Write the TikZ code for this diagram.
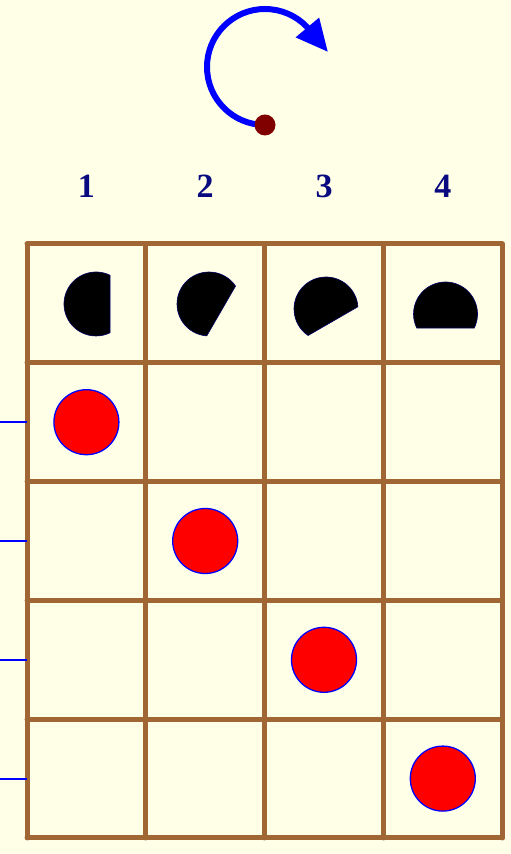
\documentclass[tikz,border=0pt]{standalone}
\usepackage{fontspec}
\setmainfont{Liberation Serif}
\definecolor{bgcream}{RGB}{255,255,232}
\definecolor{gridbrown}{RGB}{160,102,51}
\definecolor{numnavy}{RGB}{10,10,128}
\definecolor{pivotred}{RGB}{128,0,0}
\usetikzlibrary{arrows.meta}

\tikzset{
  gridline/.style={draw=gridbrown, line width=5pt, line cap=round, line join=round},
  token/.style={circle, draw=blue, fill=red, line width=1.3pt, minimum size=65pt, inner sep=0pt},
  colnum/.style={font=\fontsize{34}{40}\selectfont\bfseries, text=numnavy},
  feed/.style={draw=blue, line width=2pt},
  phase/.style={fill=black, draw=blue!40!black, line width=0.6pt},
}

\begin{document}
\begin{tikzpicture}[x=1pt, y=1pt]
  %% Page
  \useasboundingbox (0,0) rectangle (511,854);
  \fill[bgcream] (0,0) rectangle (511,854);

  %% Rotation arrow
  \coordinate (pivot) at (265,729);
  \draw[line width=6pt, blue, -{Triangle[length=32pt, width=29pt]}]
    (pivot) arc[start angle=-90, end angle=-316, radius=58] -- ++(-50:33);
  \node[circle, fill=pivotred, minimum size=21pt, inner sep=0pt] (pivotdot) at (pivot) {};

  %% Column numbers
  \foreach \c in {1,...,4}
    \node[colnum] (col\c) at ({27+118.8*(\c-0.5)},668) {\c};

  %% Grid
  \foreach \i in {0,...,4}
    \draw[gridline] ({27+118.8*\i},16) -- ({27+118.8*\i},610);
  \foreach \j in {0,...,5}
    \draw[gridline] (27,{16+118.8*\j}) -- (502.2,{16+118.8*\j});

  %% Phases in the top row
  \foreach \cx/\cy/\ang in {96/550/0, 209/550/-30, 326/545/-60, 445.5/540/-90}
    \path[phase, shift={(\cx,\cy)}, rotate=\ang]
      (64:32) arc[start angle=64, end angle=296, radius=32] -- cycle;

  %% Tokens and feed lines
  \foreach \k in {1,...,4} {
    \node[token] (tok\k) at ({27+118.8*(\k-0.5)},{610-118.8*(\k+0.5)}) {};
    \coordinate (in\k) at (0,{610-118.8*(\k+0.5)});
    \coordinate (edge\k) at (27,{610-118.8*(\k+0.5)});
    \draw[feed] (in\k) -- (edge\k);
  }
\end{tikzpicture}
\end{document}
